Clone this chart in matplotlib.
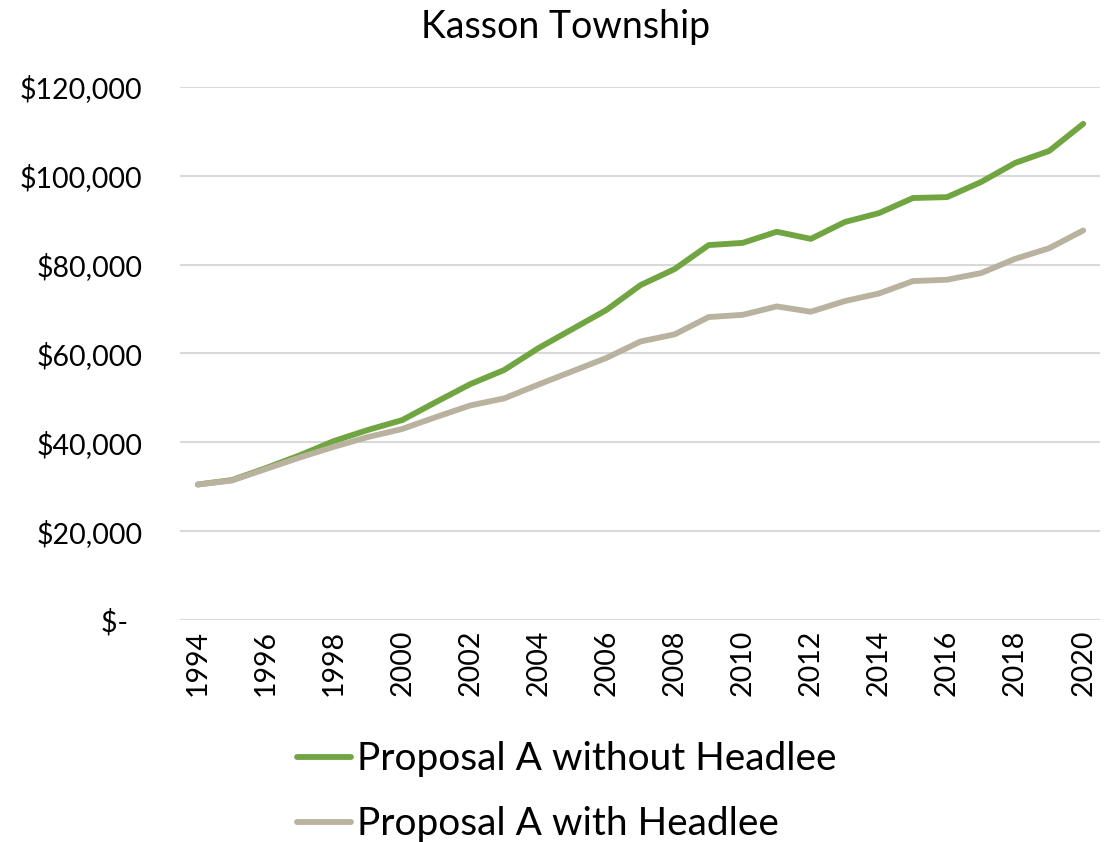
"""Kasson Township: Proposal A with and without Headlee."""
import matplotlib
matplotlib.use('Agg')
import matplotlib.pyplot as plt
from matplotlib.ticker import FuncFormatter

plt.rcParams['font.family'] = ['Lato', 'DejaVu Sans']

years = list(range(1994, 2021))
without_headlee = [
    30500, 31500, 34200, 37100, 40300, 42800, 45000, 49100, 53100, 56300,
    61200, 65500, 69800, 75400, 79000, 84400, 84900, 87400, 85800, 89600,
    91600, 95000, 95200, 98600, 102900, 105600, 111700,
]
with_headlee = [
    30500, 31400, 34000, 36600, 39000, 41200, 43000, 45700, 48300, 49900,
    53000, 56000, 59000, 62700, 64300, 68200, 68700, 70600, 69400, 71800,
    73500, 76300, 76600, 78100, 81300, 83700, 87700,
]

green = '#70a542'
beige = '#b9b29f'

fig = plt.figure(figsize=(11.17, 8.42), dpi=100)
ax = fig.add_axes([0.161, 0.2637, 0.824, 0.633])

ax.plot(years, without_headlee, color=green, lw=4.2,
        solid_capstyle='round', label='Proposal A without Headlee', zorder=3)
ax.plot(years, with_headlee, color=beige, lw=4.2,
        solid_capstyle='round', label='Proposal A with Headlee', zorder=3)

ax.set_xlim(1993.47, 2020.5)
ax.set_ylim(0, 120000)
ax.set_yticks(range(0, 120001, 20000))


def money(v, pos):
    # accounting format: zero shows as a dash, set in from the right
    if v == 0:
        return '$-  '
    return f'${v:,.0f}'


ax.yaxis.set_major_formatter(FuncFormatter(money))
ax.set_xticks(years[::2])
ax.set_xticklabels([str(y) for y in years[::2]], rotation=90)
ax.tick_params(axis='both', length=0, labelsize=20.5)
ax.tick_params(axis='y', pad=27)
ax.tick_params(axis='x', pad=7)

ax.grid(axis='y', color='#d9d9d9', lw=1.5)
ax.set_axisbelow(True)
for s in ax.spines.values():
    s.set_visible(False)

fig.text(0.506, 0.968, 'Kasson Township', ha='center', va='center',
         fontsize=27)

ax.legend(loc='upper left', bbox_to_anchor=(0.127, -0.228), frameon=False,
          fontsize=28, handlelength=1.4, handletextpad=0.15,
          labelspacing=0.74, borderpad=0, borderaxespad=0)

fig.savefig('out.png')
